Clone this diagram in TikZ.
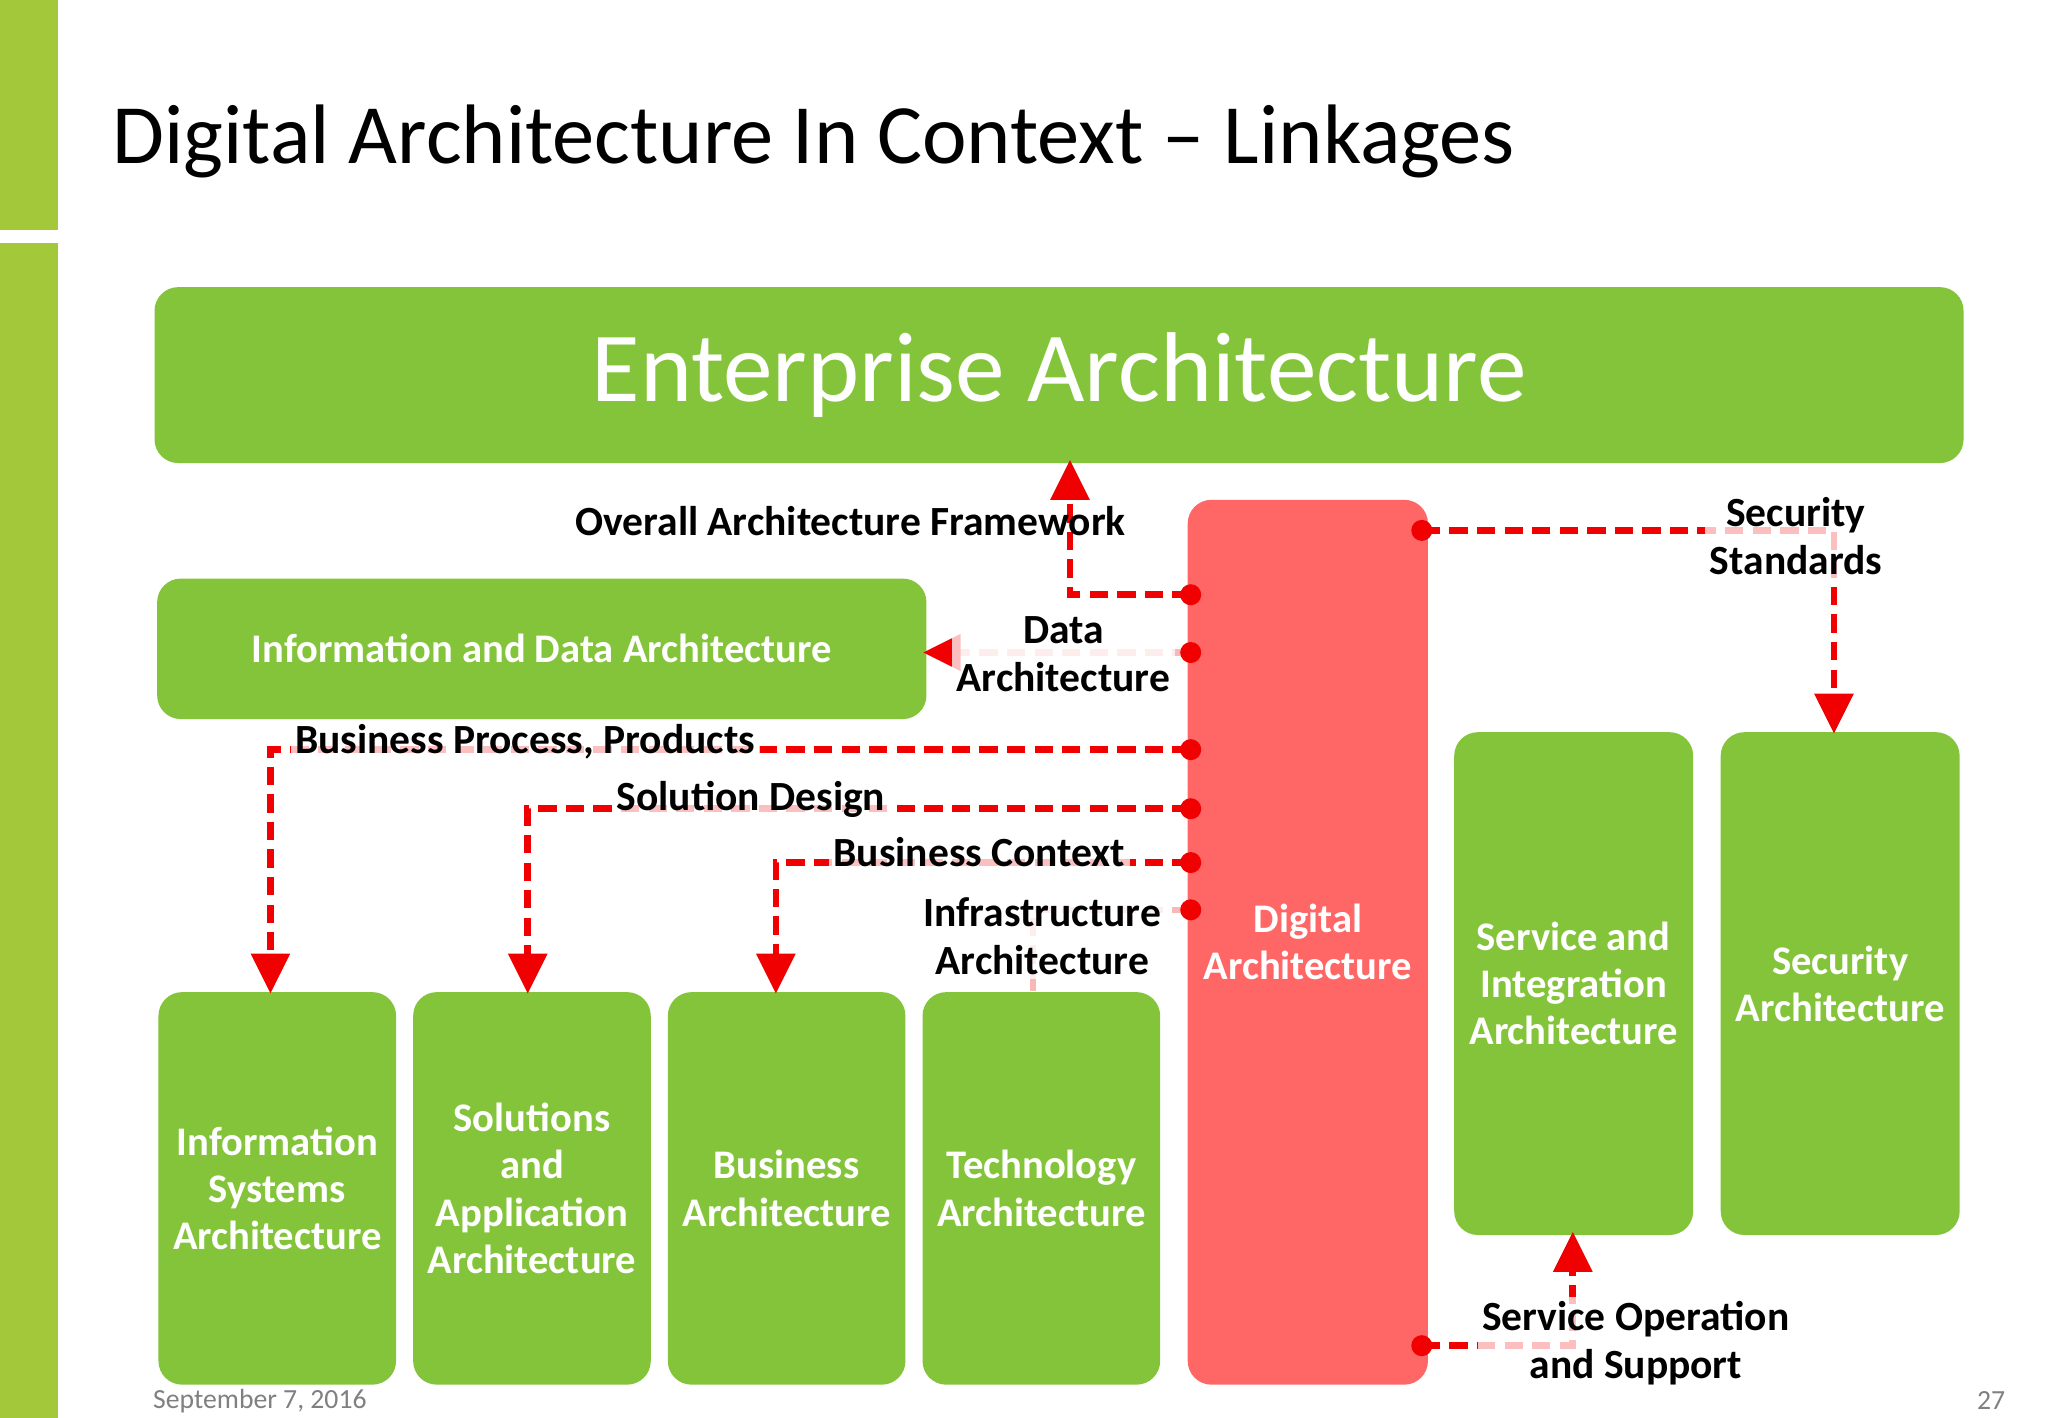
\documentclass[tikz,border=0pt]{standalone}
\usepackage{fontspec}
\setmainfont{Carlito}
\usetikzlibrary{arrows.meta}
\definecolor{eagreen}{HTML}{84C43A}
\definecolor{bargreen}{HTML}{A3C93A}
\definecolor{dared}{HTML}{FF6666}
\definecolor{lnred}{HTML}{F00000}
\definecolor{lnpink}{HTML}{F8B8B8}
\begin{document}
\begin{tikzpicture}[x=0.1mm,y=-0.1mm,
 gbox/.style={draw=none,fill=eagreen,rounded corners=1.8mm,text=white,font=\fontsize{8.8}{10.2}\selectfont\bfseries,align=center,anchor=north west,inner sep=0pt},
 lbl/.style={font=\fontsize{9}{10.4}\selectfont\bfseries,align=center,fill=white,fill opacity=0.75,text opacity=1,inner sep=1pt},
 link/.style={draw=lnred,line width=0.5mm,dash pattern=on 1.4mm off 0.7mm},
 plink/.style={draw=lnpink,line width=0.5mm,dash pattern=on 1.4mm off 0.7mm},
 dot/.style={circle,fill=lnred,minimum size=1.6mm,inner sep=0pt}]
\useasboundingbox (0,0) rectangle (1560,1080);
\fill[white] (0,0) rectangle (1560,1080);
\fill[bargreen] (0,0) rectangle (44,175);
\fill[bargreen] (0,185) rectangle (44,1080);
\node[anchor=west,font=\fontsize{18.3}{22}\selectfont,inner sep=0pt] (title) at (85,108) {Digital Architecture In Context -- Linkages};
% boxes
\node[gbox,minimum width=137.8mm,minimum height=13.4mm,font=\fontsize{21.5}{26}\selectfont] (ea) at (117,218) {Enterprise Architecture};
\node[gbox,minimum width=58.6mm,minimum height=10.7mm] (ida) at (119,440) {Information and Data Architecture};
\node[gbox,minimum width=18.1mm,minimum height=29.9mm] (isa) at (120,755) {Information\\Systems\\Architecture};
\node[gbox,minimum width=18.1mm,minimum height=29.9mm] (saa) at (314,755) {Solutions\\and\\Application\\Architecture};
\node[gbox,minimum width=18.1mm,minimum height=29.9mm] (ba) at (508,755) {Business\\Architecture};
\node[gbox,minimum width=18.1mm,minimum height=29.9mm] (ta) at (702,755) {Technology\\Architecture};
\node[gbox,fill=dared,minimum width=18.3mm,minimum height=67.4mm] (da) at (904,380) {Digital\\Architecture};
\node[gbox,minimum width=18.2mm,minimum height=38.3mm] (sia) at (1107,557) {Service and\\Integration\\Architecture};
\node[gbox,minimum width=18.2mm,minimum height=38.3mm] (sa) at (1310,557) {Security\\Architecture};
% anchor coordinates
\coordinate (d1) at (907,453); \coordinate (d2) at (907,497); \coordinate (d3) at (907,571);
\coordinate (d4) at (907,616); \coordinate (d5) at (907,657); \coordinate (d6) at (907,693);
\coordinate (d7) at (1083,404); \coordinate (d8) at (1083,1025);
\coordinate (eab) at (815,352); \coordinate (idr) at (705,497);
\coordinate (isat) at (206,755); \coordinate (saat) at (402,755); \coordinate (bat) at (591,755);
\coordinate (tat) at (787,755); \coordinate (sat) at (1397,557); \coordinate (siab) at (1198,940);
\coordinate (isae) at (206,735); \coordinate (saae) at (402,735); \coordinate (bae) at (591,735);
\coordinate (sae) at (1397,537); \coordinate (siae) at (1198,960); \coordinate (eae) at (815,372);
% links
\draw[link] (d1) -| (eae);
\draw[plink] (d2) -- (725,497);
\draw[draw=lnred,fill=lnred] (idr) -- ++(26,-13) -- ++(0,26) -- cycle;
\draw[link] (d3) -| (isae);
\draw[link] (d4) -| (saae);
\draw[link] (d5) -| (bae);
\draw[plink] (d6) -| (tat);
\draw[link] (d7) -| (sae);
\draw[link] (d8) -| (siae);
\foreach \p in {isat,saat,bat,sat}{\draw[draw=lnred,fill=lnred] (\p) -- ++(-14,-28) -- ++(28,0) -- cycle;}
\draw[draw=lnred,fill=lnred] (eab) -- ++(-14,28) -- ++(28,0) -- cycle;
\draw[draw=lnred,fill=lnred] (siab) -- ++(-14,28) -- ++(28,0) -- cycle;
\foreach \p in {d1,d2,d3,d4,d5,d6,d7,d8}{\node[dot] at (\p) {};}
% labels
\node[lbl,fill=none] (l1) at (648,397) {Overall Architecture Framework};
\node[lbl] (l2) at (810,498) {Data\\Architecture};
\node[lbl] (l3) at (400,565) {Business Process, Products};
\node[lbl] (l4) at (572,609) {Solution Design};
\node[lbl] (l5) at (746,649) {Business Context};
\node[lbl] (l6) at (794,713) {Infrastructure\\Architecture};
\node[lbl] (l7) at (1368,408) {Security\\Standards};
\node[lbl] (l8) at (1246,1023) {Service Operation\\and Support};
\node[anchor=west,text=gray,font=\fontsize{6}{7}\selectfont,inner sep=0pt] (date) at (116,1067) {September 7, 2016};
\node[anchor=east,text=gray,font=\fontsize{6}{7}\selectfont,inner sep=0pt] (pg) at (1528,1067) {27};
\end{tikzpicture}
\end{document}
